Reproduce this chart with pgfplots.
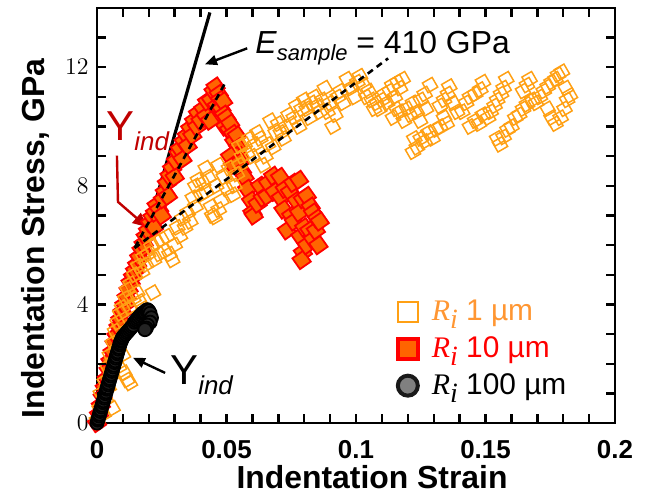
\documentclass[border=0pt]{standalone}
\usepackage{fontspec}
\setmainfont{Liberation Sans}
\newfontfamily\timesf{Liberation Serif}
\usepackage{pgfplots}
\pgfplotsset{compat=1.18}
\usetikzlibrary{arrows.meta}
\definecolor{cOr}{RGB}{255,160,20}
\definecolor{cOrTxt}{RGB}{255,150,50}
\definecolor{cRedE}{RGB}{255,0,0}
\definecolor{cRedF}{RGB}{255,100,0}
\definecolor{cDRed}{RGB}{192,0,0}
\definecolor{cGray}{RGB}{35,35,35}

\pgfplotstableread{
x y
0 0.1
0.001 0.5
0.0015 1.0
0.0025 0.3
0.003 1.4
0.0035 0.8
0.004 1.9
0.0045 1.2
0.005 2.3
0.0055 1.6
0.006 0.5
0.0062 2.7
0.0068 2.1
0.007 3.1
0.0078 2.5
0.008 3.4
0.0085 1.9
0.009 3.7
0.0097 3.9
0.010 2.3
0.0105 1.7
0.0116 1.45
0.0127 1.35
0.011 4.2
0.0118 4.5
0.0125 3.9
0.013 4.7
0.014 4.2
0.0145 5.0
0.0155 4.4
0.0166 4.1
0.0178 3.85
0.016 5.3
0.0174 5.1
0.018 5.6
0.019 5.35
0.0197 5.7
0.0216 4.4
0.021 5.95
0.022 5.5
0.023 6.1
0.024 5.7
0.025 6.2
0.026 5.8
0.027 6.3
0.028 5.7
0.029 5.5
0.030 6.0
0.031 6.6
0.032 6.3
0.033 6.9
0.034 6.6
0.035 7.1
0.036 6.8
0.037 7.6
0.038 7.3
0.038 8.0
0.039 8.2
0.040 7.7
0.041 8.1
0.042 7.8
0.042 8.6
0.043 8.3
0.044 7.3
0.0445 7.0
0.0455 6.95
0.047 7.2
0.046 8.0
0.048 7.5
0.047 8.7
0.049 8.3
0.050 7.9
0.051 8.6
0.0525 7.7
0.053 8.0
0.054 8.4
0.055 8.7
0.055 9.35
0.056 9.0
0.057 9.4
0.058 9.1
0.059 9.6
0.060 9.0
0.061 9.4
0.062 9.8
0.063 9.6
0.064 8.7
0.065 9.0
0.066 9.4
0.067 10.2
0.068 9.3
0.069 9.8
0.070 10.1
0.071 9.8
0.072 9.6
0.073 10.0
0.074 10.4
0.075 10.1
0.076 10.3
0.077 10.7
0.078 10.0
0.079 10.6
0.080 10.9
0.081 10.6
0.082 10.3
0.083 10.8
0.084 11.0
0.085 10.7
0.086 10.5
0.087 10.9
0.088 11.3
0.089 10.5
0.090 10.8
0.091 10.0
0.092 10.4
0.093 11.0
0.094 11.2
0.095 10.8
0.0965 11.6
0.098 11.3
0.0995 11.0
0.1005 11.5
0.1015 11.7
0.103 11.4
0.104 11.0
0.105 11.2
0.106 10.9
0.107 10.6
0.108 10.8
0.109 10.6
0.110 10.9
0.111 11.1
0.112 10.8
0.113 11.2
0.114 11.4
0.115 11.0
0.116 11.5
0.117 11.3
0.118 11.6
0.1143 10.3
0.1155 10.6
0.117 10.5
0.1185 10.2
0.1197 10.6
0.121 10.4
0.122 10.8
0.1235 10.5
0.125 10.9
0.1265 11.1
0.1286 11.4
0.127 10.6
0.1247 10.2
0.1225 9.6
0.122 9.15
0.1235 9.3
0.125 9.6
0.1265 9.5
0.128 9.8
0.1295 9.6
0.131 9.9
0.1325 10.0
0.134 10.3
0.135 10.1
0.1324 10.7
0.134 10.9
0.1355 11.1
0.136 11.35
0.1375 10.8
0.139 10.5
0.141 10.5
0.1425 10.8
0.144 11.0
0.146 11.1
0.148 11.25
0.149 11.5
0.144 10.0
0.146 10.2
0.1475 10.1
0.149 10.4
0.151 10.3
0.152 10.5
0.1535 10.7
0.1545 10.9
0.156 11.1
0.157 11.3
0.158 11.6
0.1545 9.6
0.1556 9.4
0.157 9.65
0.1585 9.9
0.160 10.0
0.1615 10.3
0.163 10.4
0.1645 10.6
0.166 10.75
0.1645 11.2
0.166 11.4
0.167 11.6
0.168 10.9
0.1695 10.8
0.171 11.0
0.1725 11.2
0.174 11.35
0.1755 11.5
0.177 11.6
0.178 11.75
0.1795 11.85
0.174 10.6
0.1755 10.3
0.177 10.1
0.179 10.3
0.1805 10.6
0.1815 10.9
0.1826 11.05
0.181 11.3
}\ringone

\pgfplotstableread{
x y
0 0
0.0008 0.3
0.0015 0.6
0.0022 0.9
0.003 1.2
0.0038 1.5
0.0045 1.8
0.0052 2.1
0.006 2.4
0.0068 2.7
0.0075 2.95
0.0083 3.25
0.009 3.5
0.0098 3.75
0.0106 4.0
0.0114 4.25
0.0122 4.5
0.013 4.75
0.0139 4.95
0.0147 5.15
0.0155 5.35
0.0163 5.6
0.0172 5.85
0.018 6.05
0.0188 6.3
0.0197 6.5
0.0205 6.75
0.0214 6.95
0.022 6.6
0.0224 7.1
0.023 7.35
0.024 7.2
0.025 7.0
0.0255 7.55
0.0262 7.8
0.027 8.1
0.0274 7.66
0.028 8.35
0.029 8.6
0.030 8.3
0.0305 8.85
0.0315 9.1
0.032 9.25
0.033 8.9
0.0335 9.5
0.0347 9.7
0.035 9.35
0.036 9.95
0.0368 9.7
0.0375 10.2
0.0386 10.0
0.039 10.45
0.040 10.2
0.041 10.6
0.042 10.35
0.0425 10.85
0.0436 10.2
0.044 10.9
0.045 11.2
0.0458 11.35
0.0463 10.7
0.047 11.1
0.0475 10.9
0.048 10.6
0.0487 10.85
0.049 10.4
0.0495 10.0
0.050 10.3
0.051 9.9
0.0514 10.1
0.0525 9.75
0.053 9.5
0.054 9.7
0.0545 9.3
0.055 9.0
0.0535 9.0
0.0514 9.0
0.0525 8.7
0.055 8.8
0.056 8.5
0.057 8.3
0.058 7.9
0.0595 7.5
0.060 7.1
0.0605 7.0
0.062 7.4
0.063 8.0
0.064 7.6
0.0656 7.66
0.066 8.1
0.068 8.34
0.0685 7.8
0.0707 8.3
0.071 7.6
0.072 7.2
0.0725 7.9
0.0733 6.5
0.0745 7.8
0.075 7.0
0.0757 8.1
0.076 6.8
0.077 7.5
0.078 8.2
0.078 7.1
0.0785 6.3
0.0795 7.55
0.0795 5.76
0.079 5.5
0.080 6.6
0.081 7.66
0.081 6.0
0.082 6.5
0.0825 7.3
0.0834 7.1
0.0834 6.2
0.0845 6.5
0.085 6.9
0.086 6.8
0.0855 6.0
}\ringten

\pgfplotstableread{
x y
0 0
0.0003 0.1
0.0005 0.15
0.0008 0.24
0.001 0.3
0.0013 0.39
0.0015 0.45
0.0018 0.54
0.002 0.6
0.0023 0.69
0.0025 0.75
0.0028 0.84
0.003 0.9
0.0033 0.99
0.0035 1.05
0.0038 1.14
0.004 1.2
0.0043 1.29
0.0045 1.35
0.0048 1.44
0.005 1.5
0.0053 1.59
0.0055 1.65
0.0058 1.74
0.006 1.8
0.0063 1.89
0.0065 1.95
0.0068 2.04
0.007 2.1
0.0073 2.19
0.0075 2.25
0.0078 2.34
0.008 2.4
0.0083 2.49
0.0085 2.55
0.0088 2.64
0.009 2.7
0.0093 2.76
0.0095 2.8
0.0098 2.86
0.010 2.9
0.0105 2.95
0.011 3.0
0.0115 3.05
0.012 3.1
0.0125 3.15
0.013 3.2
0.0135 3.25
0.014 3.3
0.0145 3.4
0.015 3.45
0.0155 3.5
0.016 3.55
0.0165 3.6
0.017 3.65
0.0175 3.7
0.018 3.72
0.0185 3.75
0.019 3.8
0.0195 3.82
0.020 3.78
0.0205 3.7
0.021 3.55
0.0205 3.4
0.0195 3.3
0.019 3.2
0.0185 3.15
}\ringhundred

\begin{document}
\begin{tikzpicture}
\begin{axis}[
  width=259bp, height=207.5bp, scale only axis,
  xmin=0, xmax=0.2, ymin=0, ymax=14,
  clip=false,
  xtick={0,0.05,0.1,0.15,0.2}, xticklabels={0,0.05,0.1,0.15,0.2},
  ytick={0,4,8,12},
  minor x tick num=4, minor y tick num=3,
  tick align=inside,
  major tick length=4.5bp, minor tick length=4.5bp,
  axis line style={line width=1.1pt},
  every tick/.append style={black, line width=1.2bp},
  tick label style={font=\bfseries\fontsize{13}{13}\selectfont},
  xticklabel style={yshift=-5bp},
  yticklabel style={xshift=-0.7bp},
  label style={font=\bfseries\fontsize{16}{16}\selectfont},
  xlabel={Indentation Strain},
  ylabel={Indentation Stress, GPa},
  xlabel style={at={(axis description cs:0.531,-0.157)}, anchor=base},
  ylabel style={at={(axis description cs:-0.1004,0.4446)}, anchor=base},
  legend style={at={(rel axis cs:0.58,0.306)}, anchor=north west,
    draw=none, fill=none, font=\fontsize{15}{15}\selectfont,
    row sep=2.5bp, inner sep=0pt,
    /tikz/every odd column/.append style={column sep=5bp}},
  legend cell align=left,
]
% data
\addplot[only marks, mark=square*, mark size=3.3bp, forget plot,
  mark options={rotate=35, draw=cRedE, fill=cRedF, line width=0.9bp}]
  table {\ringten};
\addplot[only marks, mark=square, mark size=2.8bp, forget plot,
  mark options={rotate=30, draw=cOr, line width=0.75bp}]
  table {\ringone};
\addplot[only marks, mark=*, mark size=3.3bp, forget plot,
  mark options={draw=black, fill=cGray, line width=0.9bp}]
  table {\ringhundred};
% fits
\addplot[black, line width=1.6pt, forget plot] coordinates {(0.01725,5.86) (0.0436,13.85)};
\coordinate (fa1) at (axis cs:0.0147,5.93);
\coordinate (fa2) at (axis cs:0.0494,11.46);
\coordinate (fb1) at (axis cs:0.0145,5.9);
\coordinate (fb2) at (axis cs:0.1124,12.3);
% legend
\addlegendimage{only marks, mark=square, mark size=5bp, mark options={draw=cOr, line width=1bp}}
\addlegendentry{\textcolor{cOrTxt}{{\timesf\itshape R}\raisebox{-4bp}{\fontsize{14}{14}\selectfont\timesf\itshape i} 1 µm}}
\addlegendimage{only marks, mark=square*, mark size=5bp, mark options={draw=cRedE, fill=cRedF, line width=2bp}}
\addlegendentry{\textcolor{cRedE}{{\timesf\itshape R}\raisebox{-4bp}{\fontsize{14}{14}\selectfont\timesf\itshape i} 10 µm}}
\addlegendimage{only marks, mark=*, mark size=5bp, mark options={draw=black!90, fill=gray, line width=2bp}}
\addlegendentry{{\timesf\itshape R}\raisebox{-4bp}{\fontsize{14}{14}\selectfont\timesf\itshape i} 100 µm}
% annotations
\node[anchor=base west, inner sep=0pt, font=\fontsize{16}{16}\selectfont]
  at (axis cs:0.061,12.47) {\textit{E}\raisebox{-3.5bp}{\fontsize{11}{11}\selectfont\itshape sample} = 410 GPa};
\draw[-{Triangle[length=6bp,width=5bp]}, line width=1.2bp] (axis cs:0.058,12.64) -- (axis cs:0.0417,12.1);
\node[anchor=base west, inner sep=0pt, text=cDRed]
  at (axis cs:0.0035,9.53) {\fontsize{21}{21}\selectfont Y\raisebox{-5bp}{\fontsize{13}{13}\selectfont\itshape ind}};
\draw[-{Triangle[length=7bp,width=6.5bp]}, line width=1.2bp, cDRed]
  (axis cs:0.0077,9.02) -- (axis cs:0.0081,7.46) -- (axis cs:0.0193,6.61);
\node[anchor=base west, inner sep=0pt]
  at (axis cs:0.0282,1.29) {\fontsize{21}{21}\selectfont Y\raisebox{-5bp}{\fontsize{13}{13}\selectfont\itshape ind}};
\draw[-{Triangle[length=6bp,width=5bp]}, line width=1.2bp] (axis cs:0.0263,1.69) -- (axis cs:0.0139,2.2);
\end{axis}
% dashed fits
\draw[black, line width=1.3bp, dash pattern=on 3.2bp off 2.4bp] (fa1) -- (fa2);
\draw[black, line width=1.3bp, dash pattern=on 3.2bp off 2.4bp] (fb1) -- (fb2);
% tick marks on all four sides, as small filled bars over the axis ticks
\foreach \i in {1,...,19} {
  \fill[black] ([xshift=\i*12.95bp-0.6bp]current axis.south west) rectangle ++(1.2bp,4.5bp);
  \fill[black] ([xshift=\i*12.95bp-0.6bp]current axis.north west) rectangle ++(1.2bp,-4.5bp);
}
\foreach \j in {1,...,13} {
  \fill[black] ([yshift=\j*14.8214bp-0.6bp]current axis.south west) rectangle ++(4.5bp,1.2bp);
  \fill[black] ([yshift=\j*14.8214bp-0.6bp]current axis.south east) rectangle ++(-4.5bp,1.2bp);
}
\pgfresetboundingbox
\path[use as bounding box] ([shift={(-48.5bp,-37bp)}]current axis.south west) rectangle ([shift={(18.5bp,4bp)}]current axis.north east);
\end{tikzpicture}
\end{document}
